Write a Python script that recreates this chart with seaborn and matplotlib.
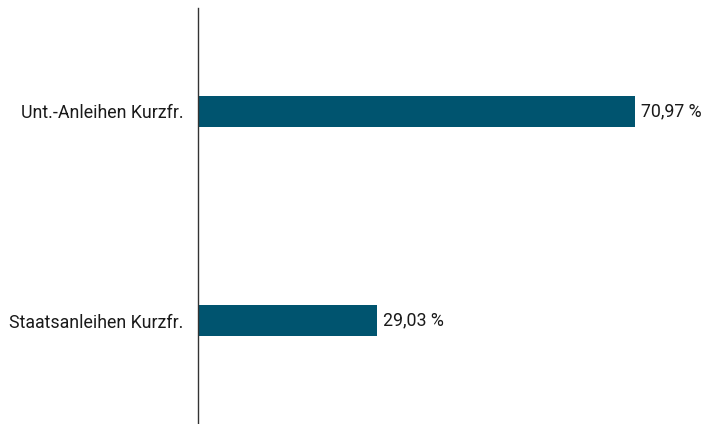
import matplotlib
matplotlib.use("Agg")
import matplotlib.pyplot as plt
import seaborn as sns
import pandas as pd

categories = ["Unt.-Anleihen Kurzfr.", "Staatsanleihen Kurzfr."]
values = [70.97, 29.03]
value_labels = ["70,97 %", "29,03 %"]

bar_color = "#00546f"

sns.set_theme(style="white")
plt.rcParams["font.family"] = ["Roboto", "DejaVu Sans"]

df = pd.DataFrame({"kategorie": categories, "anteil": values})

fig = plt.figure(figsize=(7.06, 4.24), dpi=100)
ax = fig.add_axes([198 / 706, 0, 1 - 198 / 706, 1 - 8 / 424])

sns.barplot(data=df, x="anteil", y="kategorie", color=bar_color,
            width=0.148, saturation=1, linewidth=0, ax=ax)

for i, (v, lab) in enumerate(zip(values, value_labels)):
    ax.text(v + 1.0, i, lab, va="center", ha="left", fontsize=12.8, color="#1a1a1a")

ax.set_xlim(0, 82.5)
ax.set_ylim(1.495, -0.495)
ax.set_xlabel("")
ax.set_ylabel("")
ax.set_xticks([])
ax.tick_params(axis="y", length=0, pad=10.5, labelsize=12.8, labelcolor="#1a1a1a")
for side in ["top", "right", "bottom"]:
    ax.spines[side].set_visible(False)
ax.spines["left"].set_color("#333333")
ax.spines["left"].set_linewidth(1.0)

fig.savefig("out.png", dpi=100)
